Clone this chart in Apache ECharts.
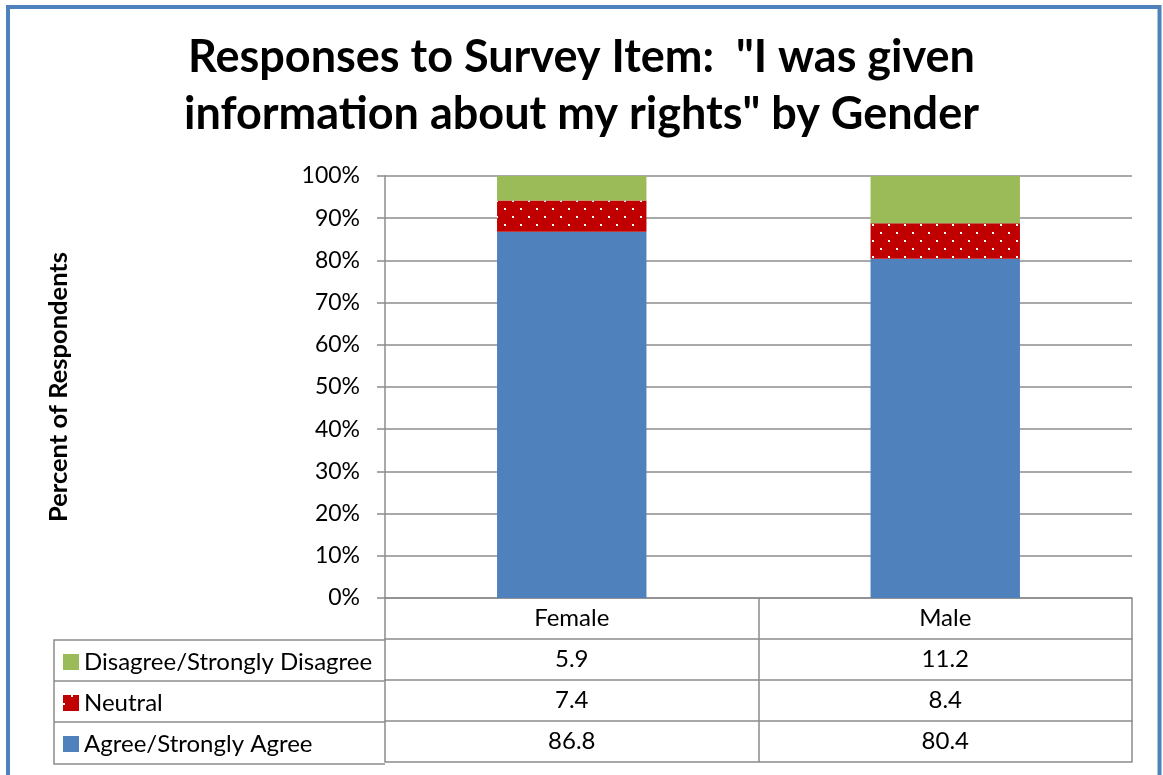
<!DOCTYPE html>
<html>
<head>
<meta charset="utf-8">
<script src="https://cdn.jsdelivr.net/npm/echarts@6/dist/echarts.min.js"></script>
<style>
  html, body { margin: 0; padding: 0; background: #fff; }
  #chart { width: 1163px; height: 775px; }
</style>
</head>
<body>
<div id="chart"></div>
<script>
// Survey responses by gender (percent of respondents)
const categories = ['Female', 'Male'];
const seriesNames = ['Agree/Strongly Agree', 'Neutral', 'Disagree/Strongly Disagree'];
const agree = [86.8, 80.4];
const neutral = [7.4, 8.4];
const disagree = [5.9, 11.2];
const yTicks = [0, 10, 20, 30, 40, 50, 60, 70, 80, 90, 100];

const FONT = 'Lato, "Open Sans", sans-serif';
const GRIDC = '#8c8c8c';
const ROW = 41;

const chart = echarts.init(document.getElementById('chart'), null, { renderer: 'canvas' });

// one axis per data-table row, stacked below the plot
function tableAxis(offset, values, showLabel, showTicks) {
  return {
    type: 'category',
    data: categories,
    position: 'bottom',
    offset: offset,
    boundaryGap: true,
    axisLine: { show: true, lineStyle: { color: GRIDC, width: 1.5 } },
    axisTick: { show: showTicks, length: ROW, lineStyle: { color: GRIDC, width: 1.5 } },
    axisLabel: {
      show: showLabel,
      margin: 8,
      fontFamily: FONT,
      fontSize: 24,
      color: '#000',
      formatter: function (v, i) { return values ? values[i].toFixed(1) : v; }
    }
  };
}

const option = {
  backgroundColor: '#fff',
  animation: false,
  title: {
    text: 'Responses to Survey Item:  "I was given\ninformation about my rights" by Gender',
    left: 'center',
    top: 24,
    textStyle: { fontFamily: FONT, fontSize: 45, fontWeight: 'bold', color: '#000', lineHeight: 57 }
  },
  grid: { left: 385, right: 31, top: 176, bottom: 177, containLabel: false },
  legend: {
    orient: 'vertical',
    left: 63,
    top: 650,
    padding: 0,
    itemWidth: 16,
    itemHeight: 16,
    itemGap: 17,
    icon: 'rect',
    data: seriesNames.slice().reverse(),
    textStyle: { fontFamily: FONT, fontSize: 24, color: '#000', lineHeight: 24 },
    selectedMode: false
  },
  xAxis: [
    tableAxis(0, null, true, true),
    tableAxis(ROW, disagree, true, true),
    tableAxis(ROW * 2, neutral, true, true),
    tableAxis(ROW * 3, agree, true, true),
    tableAxis(ROW * 4, null, false, false)
  ],
  yAxis: {
    type: 'value',
    min: yTicks[0],
    max: yTicks[yTicks.length - 1],
    interval: 10,
    name: 'Percent of Respondents',
    nameLocation: 'middle',
    nameGap: 313,
    nameRotate: 90,
    nameTextStyle: { fontFamily: FONT, fontSize: 25.5, fontWeight: 'bold', color: '#000' },
    axisLine: { show: true, lineStyle: { color: GRIDC, width: 1.5 } },
    axisTick: { show: true, length: 8, lineStyle: { color: GRIDC, width: 1.5 } },
    splitLine: { show: true, lineStyle: { color: GRIDC, width: 1.5 } },
    axisLabel: { margin: 25, fontFamily: FONT, fontSize: 23, color: '#000', formatter: '{value}%' }
  },
  series: [
    {
      name: seriesNames[0], type: 'bar', stack: 'total', barWidth: '40%',
      data: agree, itemStyle: { color: '#4F81BD' }
    },
    {
      name: seriesNames[1], type: 'bar', stack: 'total', barWidth: '40%',
      data: neutral,
      itemStyle: {
        color: '#C00000',
        decal: {
          symbol: 'rect',
          symbolSize: 1,
          color: '#ffffff',
          dashArrayX: [[2, 14], [0, 8, 2, 6]],
          dashArrayY: [2, 6],
          rotation: 0
        }
      }
    },
    {
      name: seriesNames[2], type: 'bar', stack: 'total', barWidth: '40%',
      data: disagree, itemStyle: { color: '#9BBB59' }
    }
  ],
  graphic: [
    // outer frame
    { type: 'rect', shape: { x: 8, y: 7, width: 1151.5, height: 820 }, style: { fill: 'none', stroke: '#4F81BD', lineWidth: 4 }, silent: true },
    // legend column of the data table
    { type: 'polyline', shape: { points: [[385, 640], [54, 640], [54, 764], [385, 764]] }, style: { fill: 'none', stroke: GRIDC, lineWidth: 1.5 }, silent: true },
    { type: 'line', shape: { x1: 54, y1: 681, x2: 385, y2: 681 }, style: { stroke: GRIDC, lineWidth: 1.5 }, silent: true },
    { type: 'line', shape: { x1: 54, y1: 722, x2: 385, y2: 722 }, style: { stroke: GRIDC, lineWidth: 1.5 }, silent: true }
  ]
};

chart.setOption(option);
</script>
</body>
</html>
